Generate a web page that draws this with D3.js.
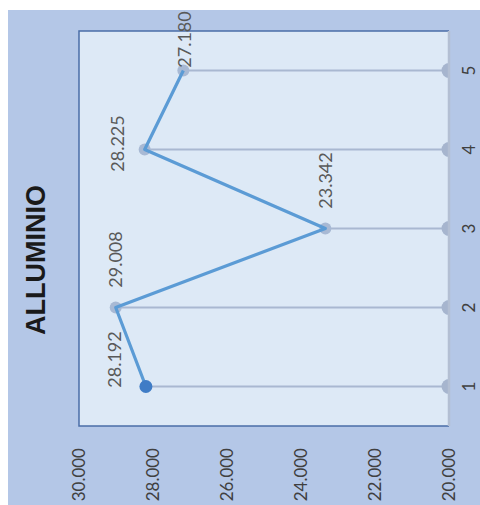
<!DOCTYPE html>
<html>
<head>
<meta charset="utf-8">
<script src="https://cdn.jsdelivr.net/npm/d3@7"></script>
<style>
  body { margin: 0; background: #fff; }
  svg { display: block; }
</style>
</head>
<body>
<div id="chart"></div>
<script>
// chart data (the whole picture is turned 90deg, categories run bottom to top)
const categories = ["1", "2", "3", "4", "5"];
const values = [28.192, 29.008, 23.342, 28.225, 27.180];
const valueTicks = [30, 28, 26, 24, 22, 20];
const title = "ALLUMINIO";

// label nudges (screen px, relative to the point) - layout only
const labelNudge = [[-31, -27], [0, -48], [0, -48], [-27, -6], [1, -31]];

const W = 480, H = 505;
const plot = {left: 79, right: 449, top: 31, bottom: 426};

const svg = d3.select("#chart").append("svg")
    .attr("width", W).attr("height", H);

svg.append("rect")
    .attr("x", 8).attr("y", 10)
    .attr("width", W - 8).attr("height", H - 10)
    .attr("fill", "#b4c7e7");

svg.append("defs").append("clipPath").attr("id", "plotclip")
  .append("rect")
    .attr("x", plot.left).attr("y", plot.top)
    .attr("width", plot.right - plot.left).attr("height", plot.bottom - plot.top);

svg.append("rect")
    .attr("x", plot.left).attr("y", plot.top)
    .attr("width", plot.right - plot.left).attr("height", plot.bottom - plot.top)
    .attr("fill", "#dde9f6");

let x = d3.scaleLinear()
    .domain([20, 30])
    .range([plot.right, plot.left]);

let y = d3.scaleBand()
    .domain(categories)
    .range([plot.bottom, plot.top]);

const cy = d => y(d) + y.bandwidth() / 2;

let data = categories.map((c, i) => ({cat: c, val: values[i]}));

// drop lines to the category axis
svg.append("g").selectAll("line")
    .data(data)
    .enter()
    .append("line")
        .attr("x1", d => x(d.val))
        .attr("x2", plot.right)
        .attr("y1", d => cy(d.cat))
        .attr("y2", d => cy(d.cat))
        .attr("stroke", "#a9b8d1")
        .attr("stroke-width", 2);

// end markers on the axis (half hidden by the plot edge)
svg.append("g").attr("clip-path", "url(#plotclip)")
  .selectAll("circle")
    .data(data)
    .enter()
    .append("circle")
        .attr("cx", plot.right)
        .attr("cy", d => cy(d.cat))
        .attr("r", 7.5)
        .attr("fill", "#a6b5ce");

// border of the plot area
svg.append("path")
    .attr("d", `M${plot.right},${plot.top}H${plot.left}V${plot.bottom}H${plot.right}`)
    .attr("fill", "none")
    .attr("stroke", "#4a6ea8")
    .attr("stroke-width", 1.5);
svg.append("line")
    .attr("x1", plot.right).attr("x2", plot.right)
    .attr("y1", plot.top).attr("y2", plot.bottom)
    .attr("stroke", "#b3bfd3")
    .attr("stroke-width", 2.5);

// point markers
svg.append("g").selectAll("circle")
    .data(data.slice(1))
    .enter()
    .append("circle")
        .attr("cx", d => x(d.val))
        .attr("cy", d => cy(d.cat))
        .attr("r", 6)
        .attr("fill", "#a8b9d4");

let line = d3.line()
    .x(d => x(d.val))
    .y(d => cy(d.cat));

svg.append("path")
    .datum(data)
    .attr("d", line)
    .attr("fill", "none")
    .attr("stroke", "#5b9bd5")
    .attr("stroke-width", 3.2)
    .attr("stroke-linejoin", "round");

svg.append("circle")
    .attr("cx", x(data[0].val))
    .attr("cy", cy(data[0].cat))
    .attr("r", 6.5)
    .attr("fill", "#3f7cc6");

// data labels
svg.append("g").selectAll("text")
    .data(data)
    .enter()
    .append("text")
        .attr("transform", (d, i) => "translate(" + (x(d.val) + labelNudge[i][0]) + "," + (cy(d.cat) + labelNudge[i][1]) + ") rotate(-90)")
        .attr("dy", "0.35em")
        .style("text-anchor", "middle")
        .style("font-family", "Lato, 'Open Sans', sans-serif")
        .style("font-size", "18px")
        .attr("fill", "#595959")
        .text(d => d3.format(".3f")(d.val));

// value axis labels (bottom)
svg.append("g").selectAll("text")
    .data(valueTicks)
    .enter()
    .append("text")
        .attr("transform", d => "translate(" + x(d) + "," + 448 + ") rotate(-90)")
        .attr("dy", "0.35em")
        .style("text-anchor", "end")
        .style("font-family", "Lato, 'Open Sans', sans-serif")
        .style("font-size", "17px")
        .attr("fill", "#404040")
        .text(d => d3.format(".3f")(d));

// category labels (right)
svg.append("g").selectAll("text")
    .data(categories)
    .enter()
    .append("text")
        .attr("transform", d => "translate(" + 469 + "," + cy(d) + ") rotate(-90)")
        .attr("dy", "0.35em")
        .style("text-anchor", "middle")
        .style("font-family", "Lato, 'Open Sans', sans-serif")
        .style("font-size", "17px")
        .attr("fill", "#404040")
        .text(d => d);

svg.append("text")
    .attr("transform", "translate(" + 35 + "," + 260 + ") rotate(-90)")
    .attr("dy", "0.36em")
    .style("text-anchor", "middle")
    .style("font-family", "'Liberation Sans', Arial, sans-serif")
    .style("font-weight", "bold")
    .style("font-size", "27px")
    .attr("fill", "#1a1a1a")
    .text(title);
</script>
</body>
</html>
